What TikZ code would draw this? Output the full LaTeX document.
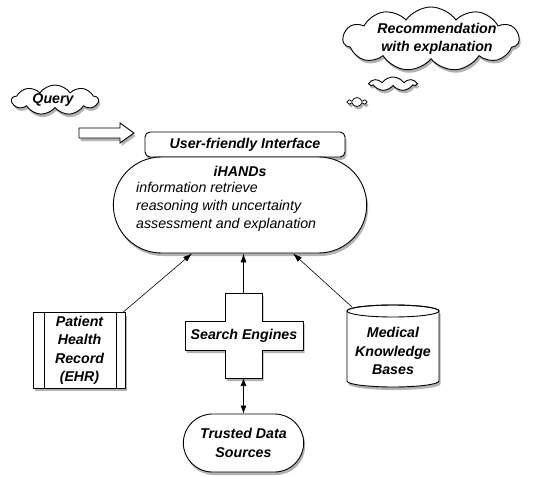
\documentclass[tikz,border=0pt]{standalone}
\usepackage{fontspec}
\setmainfont{Liberation Sans}
\usetikzlibrary{shapes.symbols,shapes.misc,shadows,arrows.meta,calc}
\begin{document}
\begin{tikzpicture}[x=1pt,y=-1pt,
  lbl/.style={font=\fontsize{14.2}{18.5}\selectfont\bfseries\itshape,align=center},
  body/.style={font=\fontsize{14.2}{17.8}\selectfont\itshape,align=left},
  shd/.style={drop shadow={shadow xshift=1.5pt,shadow yshift=-3pt,opacity=0.3,fill=black}},
  box/.style={draw,fill=white,line width=0.9pt,shd},
  thought/.style={cloud,cloud ignores aspect,inner sep=0pt,box},
  conn/.style={-{Latex[length=9pt,width=6pt]},line width=0.6pt},
  dconn/.style={{Latex[length=8pt,width=6pt]}-{Latex[length=8pt,width=6pt]},line width=0.6pt},
  shadowfill/.style={fill=black,opacity=0.3}]
\useasboundingbox (0,0) rectangle (540,476);

% thought clouds
\node[thought,cloud puffs=9,cloud puff arc=110,minimum width=86,minimum height=30] (query) at (55,100) {};
\node[lbl,inner sep=0pt] (querytext) at (53,100) {Query};
\node[thought,cloud puffs=11,cloud puff arc=110,minimum width=176,minimum height=64] (rec) at (431,39) {};
\node[lbl,inner sep=0pt] (rectext) at (437,39) {Recommendation\\with explanation};
\node[thought,cloud puffs=7,cloud puff arc=110,minimum width=46,minimum height=14] (puffA) at (393,84) {};
\node[thought,cloud puffs=6,minimum width=18,minimum height=9,line width=0.7pt] (puffB) at (357,102) {};

% block arrow
\fill[shadowfill] (80.5,131)--(121.5,131)--(121.5,126)--(135.5,136)--(121.5,146)--(121.5,141)--(80.5,141)--cycle;
\draw[fill=white,line width=0.9pt] (79,128)--(120,128)--(120,123)--(134,133)--(120,143)--(120,138)--(79,138)--cycle;

% interface and iHANDs
\node[box,rounded corners=5pt,minimum width=200,minimum height=25,lbl] (ui) at (245,144.5) {User-friendly Interface};
\node[box,rounded rectangle,minimum width=260,minimum height=96] (ihands) at (240,205) {};
\node[lbl,inner sep=0pt] (ihtitle) at (240,171) {iHANDs};
\node[body,inner sep=0pt,anchor=north west] (ihbody) at (136,182) {information retrieve\\reasoning with uncertainty\\assessment and explanation};

% EHR
\node[box,minimum width=92,minimum height=75,lbl] (ehr) at (79.5,350.5) {Patient\\Health\\Record\\(EHR)};
\draw[line width=0.9pt] ($(ehr.north west)+(11,0)$) -- ($(ehr.south west)+(11,0)$);
\draw[line width=0.9pt] ($(ehr.north east)+(-10,0)$) -- ($(ehr.south east)+(-10,0)$);

% cross (search engines)
\fill[shadowfill] (226.5,296)--(263.5,296)--(263.5,324)--(304.5,324)--(304.5,353)--(263.5,353)--(263.5,381)--(226.5,381)--(226.5,353)--(186.5,353)--(186.5,324)--(226.5,324)--cycle;
\draw[fill=white,line width=0.9pt] (225,293)--(262,293)--(262,321)--(303,321)--(303,350)--(262,350)--(262,378)--(225,378)--(225,350)--(185,350)--(185,321)--(225,321)--cycle;
\node[lbl] (se) at (244,335.5) {Search Engines};
\coordinate (setop) at (243.5,293);
\coordinate (sebot) at (243.5,378);

% cylinder (knowledge bases)
\fill[shadowfill] (348.5,314) -- (348.5,384) arc (180:0:46 and 6) -- (440.5,314) arc (0:-180:46 and 6) -- cycle;
\draw[fill=white,line width=0.9pt] (347,311) -- (347,381) arc (180:0:46 and 6) -- (439,311) arc (0:-180:46 and 6) -- cycle;
\draw[line width=0.9pt] (393,311) ellipse (46 and 6);
\node[lbl] (kb) at (393,351) {Medical\\Knowledge\\Bases};
\coordinate (kbtop) at (352,307);

% trusted data sources
\node[box,rounded rectangle,minimum width=127,minimum height=58,lbl] (tds) at (243.5,443) {Trusted Data\\Sources};

% connectors
\draw[conn] ($(ehr.north east)+(-3,0)$) -- ($(ihands.south)+(-48,0)$);
\draw[conn] (setop) -- ($(ihands.south)+(3.5,0)$);
\draw[conn] (kbtop) -- ($(ihands.south)+(53,0)$);
\draw[dconn] (sebot) -- (tds.north -| sebot);
\end{tikzpicture}
\end{document}
